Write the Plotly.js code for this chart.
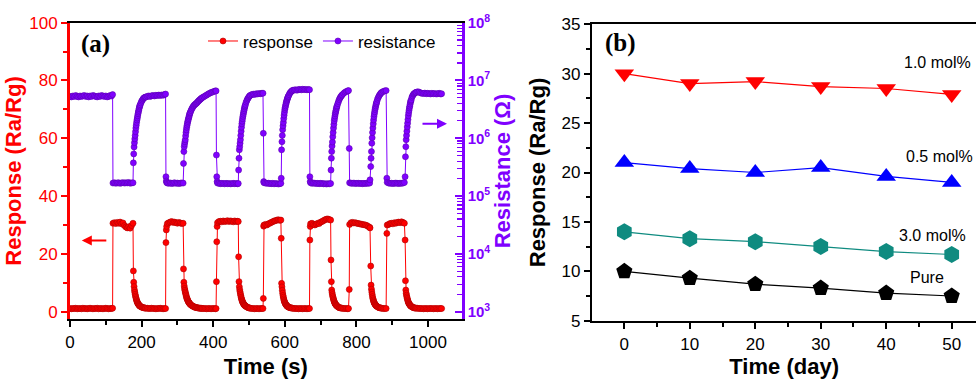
<!DOCTYPE html>
<html>
<head>
<meta charset="utf-8">
<script src="https://cdn.plot.ly/plotly-3.0.1.min.js"></script>
<style>html,body{margin:0;padding:0;background:#fff;}#chart{width:976px;height:379px;}</style>
</head>
<body>
<div id="chart"></div>
<script>
// ---------- Panel (a): dynamic response / resistance ----------
const timeS = [
  0,4,8,12,16,20,24,28,32,36, 40,44,48,52,56,60,64,68,72,76, 80,84,88,92,96,100,104,108,112,116, 119,
  120,124,128,132,136,140,144,148,152,156,160,164,168,172,176,
  177,178,179,180,181,182,183,184,185,186, 187,188,189,190,191,192,193,194,195,196, 198,200,202,204,206,208,210,212,
  216,220,224,228,232,236,240,244,248,252,256,260,264, 267,
  268,269,270,272,276,280,284,288,292,296,300,304,308,312,316,
  317,318,319,320,321,322,323,324,325,326, 327,328,329,330,331,332,333,334,335,336,
  338,340,342,344,346,348,350,352,354,356,358,360,362,364,366,368, 370,374,378,382,386,390,394,398,402,406, 408,
  409,410,411,412,416,420,424,428,432,436, 440,444,448,452,456,460,464,468,470,
  471,472,473,474,475,476,477,478,479,480, 481,482,483,484,485,486,487,488,489,490, 492,494,496,498,500,502,504,
  508,512,516,520,524,528,532,536, 539,
  540,541,542,546,550,554,558,562,566,570,574,578,582,586,589,
  590,591,592,593,594,595,596,597,598,599, 600,601,602,603,604,605,606,607,608,609, 610, 612,614,616,618,620,622,
  626,630,634,638,642,646,650,654,658,662,666, 669,
  670,671,672,676,680,684,688,692,696,700,704,708,712,716,720,724,728,
  729,730,731,732,733,734,735,736,737,738, 739,740,741,742,743,744,745,746, 748,750,752,754,756,758,760, 764,768,772,776, 778,
  780,781,785,789,793,797,801,805,809,813,817,821,825,829,833,837,838,
  840,841,842,843,844,845,846,847,848,849, 850,851,852,853,854,855,856,857, 859,861,863,865,867,869,871, 875,879,883,
  885,886,890,894,898,902,906,910,914,918,922,926,930,934,
  936,937,938,939,940,941,942,943,944,945, 946,947,948,949,950,951,952,953, 955,957,959,961,963,965,967, 971,
  975,979,983,987,991,995,999,1003,1007,1011,1015,1019,1023,1027,1031,1035, 1038
];
const responseRaRg = [
  1.1,1.0,1.1,1.1,1.2,1.0,1.1,1.1,1.0,1.2, 1.1,1.1,1.0,1.1,1.2,1.1,1.0,1.1,1.1,1.2, 1.0,1.1,1.1,1.0,1.1,1.2,1.1,1.0,1.1,1.1, 1.2,
  30.6,30.8,30.5,30.9,30.6,31.0,30.4,30.7,29.8,29.3,29.0,29.4,28.9,29.8,30.6,
  14.1,10.2,8.7,7.5,6.7,6.0,5.4,4.9,4.4,4.0, 3.6,3.3,3.0,2.8,2.6,2.4,2.3,2.1,2.0,1.9, 1.75,1.6,1.5,1.4,1.35,1.3,1.25,1.2,
  1.2,1.1,1.1,1.2,1.1,1.1,1.0,1.1,1.1,1.2,1.1,1.0,1.1, 1.1,
  23.9,28.3,29.5,30.5,30.8,31.0,31.2,30.9,31.0,30.8,30.6,30.9,30.7,30.5,30.6,
  14.8,10.2,8.9,8.0,7.4,6.8,6.3,5.8,5.3,4.8, 4.5,4.2,3.9,3.6,3.4,3.2,3.0,2.85,2.7,2.55,
  2.3,2.15,2.0,1.85,1.7,1.6,1.5,1.45,1.4,1.35,1.3,1.25,1.2,1.2,1.2,1.15, 1.1,1.1,1.1,1.0,1.1,1.1,1.0,1.1,1.1,1.0, 1.1,
  10.4,24.2,29.5,30.8,31.2,31.3,31.1,31.4,31.2,31.3, 31.5,31.2,31.4,31.3,31.1,31.4,31.2,31.3,31.2,
  19.0,10.4,8.6,7.6,6.9,6.2,5.6,5.0,4.5,4.1, 3.7,3.4,3.1,2.9,2.7,2.5,2.35,2.2,2.1,2.0, 1.8,1.65,1.5,1.4,1.3,1.25,1.2,
  1.1,1.1,1.0,1.1,1.1,1.0,1.1,1.1, 1.1,
  4.6,29.6,30.0,30.2,30.0,30.4,30.6,30.9,31.1,31.4,31.5,31.7,31.8,31.6,31.7,
  25.4,9.8,8.6,7.4,6.4,5.6,5.0,4.4,3.9,3.5, 3.2,2.9,2.7,2.5,2.3,2.15,2.0,1.9,1.8,1.7, 1.6, 1.5,1.4,1.35,1.3,1.25,1.2,
  1.1,1.1,1.1,1.0,1.1,1.1,1.0,1.1,1.1,1.0,1.1, 1.1,
  24.8,29.5,30.4,30.6,30.2,30.0,30.3,30.6,30.5,31.0,31.2,31.5,31.8,32.0,32.1,31.9,31.7,
  17.9,10.4,7.5,6.6,5.9,5.3,4.8,4.3,3.9,3.5, 3.2,2.9,2.7,2.5,2.35,2.2,2.05,1.95, 1.7,1.55,1.4,1.35,1.3,1.25,1.2, 1.1,1.1,1.1,1.0, 1.1,
  7.7,30.2,30.8,30.9,30.7,30.8,30.6,30.5,30.4,30.3,30.2,30.1,30.0,29.8,29.5,29.2,29.0,
  15.8,9.2,7.8,6.8,6.0,5.2,4.6,4.1,3.7,3.3, 3.0,2.8,2.6,2.4,2.25,2.1,1.95,1.85, 1.7,1.55,1.4,1.35,1.3,1.25,1.2, 1.1,1.1,1.1,
  27.1,30.0,30.2,30.5,30.6,30.4,30.8,30.6,30.9,31.0,30.8,31.1,30.9,30.6,
  24.8,10.7,7.5,6.4,5.7,5.1,4.6,4.1,3.7,3.3, 3.0,2.8,2.6,2.4,2.25,2.1,1.95,1.85, 1.7,1.55,1.4,1.35,1.3,1.25,1.2, 1.2,
  1.1,1.1,1.1,1.0,1.1,1.1,1.0,1.1,1.1,1.1,1.0,1.1,1.1,1.0,1.1,1.1, 1.1
];
const resistanceOhm = [
  5.3e6,5.2e6,5.4e6,5.3e6,5.5e6,5.3e6,5.2e6,5.4e6,5.3e6,5.4e6, 5.5e6,5.3e6,5.4e6,5.2e6,5.4e6,5.3e6,5.5e6,5.4e6,5.3e6,5.2e6, 5.4e6,5.3e6,5.5e6,5.4e6,5.3e6,5.4e6,5.2e6,5.3e6,5.5e6,5.4e6, 5.7e6,
  1.68e5,1.70e5,1.67e5,1.69e5,1.70e5,1.66e5,1.69e5,1.71e5,1.68e5,1.70e5,1.69e5,1.72e5,1.67e5,1.69e5,1.70e5,
  3.76e5,5.37e5,7.08e5,8.41e5,9.77e5,1.12e6,1.30e6,1.50e6,1.68e6,1.88e6, 2.07e6,2.24e6,2.45e6,2.66e6,2.85e6,3.05e6,3.27e6,3.47e6,3.63e6,3.80e6, 4.07e6,4.37e6,4.57e6,4.79e6,4.96e6,5.07e6,5.13e6,5.19e6,
  5.31e6,5.4e6,5.3e6,5.45e6,5.5e6,5.4e6,5.55e6,5.5e6,5.6e6,5.5e6,5.62e6,5.55e6,5.7e6, 5.82e6,
  2.16e5,1.82e5,1.72e5,1.68e5,1.66e5,1.69e5,1.65e5,1.67e5,1.70e5,1.66e5,1.68e5,1.65e5,1.67e5,1.69e5,1.68e5,
  3.67e5,5.89e5,7.16e5,7.94e5,8.71e5,9.44e5,1.10e6,1.26e6,1.40e6,1.55e6, 1.68e6,1.82e6,1.95e6,2.07e6,2.19e6,2.32e6,2.45e6,2.60e6,2.72e6,2.82e6,
  3.02e6,3.20e6,3.39e6,3.55e6,3.67e6,3.80e6,3.89e6,3.98e6,4.07e6,4.22e6,4.37e6,4.47e6,4.62e6,4.73e6,4.84e6,4.96e6, 5.07e6,5.25e6,5.43e6,5.62e6,5.82e6,6.03e6,6.17e6,6.31e6,6.46e6,6.61e6, 6.61e6,
  5.13e5,2.16e5,1.78e5,1.68e5,1.66e5,1.64e5,1.66e5,1.65e5,1.63e5,1.66e5, 1.64e5,1.65e5,1.63e5,1.64e5,1.66e5,1.64e5,1.65e5,1.63e5,1.65e5,
  2.82e5,4.52e5,6.31e5,7.16e5,8.22e5,9.44e5,1.12e6,1.33e6,1.55e6,1.78e6, 1.97e6,2.19e6,2.40e6,2.60e6,2.82e6,3.02e6,3.24e6,3.47e6,3.63e6,3.85e6, 4.22e6,4.52e6,4.79e6,5.01e6,5.25e6,5.43e6,5.56e6,
  5.7e6,5.8e6,5.75e6,5.9e6,5.85e6,5.95e6,5.9e6,6.0e6, 6.03e6,
  1.22e6,1.78e5,1.70e5,1.68e5,1.66e5,1.67e5,1.65e5,1.64e5,1.66e5,1.63e5,1.65e5,1.64e5,1.62e5,1.64e5,1.66e5,
  2.04e5,6.31e5,8.71e5,1.12e6,1.41e6,1.64e6,1.88e6,2.19e6,2.51e6,2.82e6, 3.16e6,3.39e6,3.63e6,3.89e6,4.12e6,4.37e6,4.57e6,4.79e6,5.01e6,5.19e6, 5.37e6, 5.69e6,6.03e6,6.24e6,6.46e6,6.61e6,6.76e6,
  6.85e6,6.9e6,6.8e6,6.95e6,7.0e6,6.9e6,7.05e6,6.95e6,7.0e6,6.9e6,7.0e6, 6.92e6,
  2.16e5,1.78e5,1.70e5,1.66e5,1.68e5,1.67e5,1.65e5,1.66e5,1.64e5,1.66e5,1.65e5,1.63e5,1.64e5,1.62e5,1.64e5,1.63e5,1.65e5,
  2.82e5,4.52e5,5.89e5,7.33e5,8.63e5,1.06e6,1.26e6,1.50e6,1.74e6,2.0e6, 2.21e6,2.43e6,2.66e6,2.85e6,3.05e6,3.27e6,3.47e6,3.63e6, 3.98e6,4.32e6,4.68e6,4.96e6,5.19e6,5.43e6,5.62e6, 5.96e6,6.24e6,6.46e6,6.61e6, 6.68e6,
  6.68e5,1.70e5,1.67e5,1.66e5,1.68e5,1.65e5,1.66e5,1.67e5,1.65e5,1.66e5,1.64e5,1.66e5,1.65e5,1.67e5,1.66e5,1.68e5,1.91e5,
  3.24e5,4.52e5,5.89e5,8.22e5,1.02e6,1.26e6,1.51e6,1.78e6,2.07e6,2.37e6, 2.63e6,2.88e6,3.16e6,3.39e6,3.63e6,3.89e6,4.07e6,4.32e6, 4.73e6,5.07e6,5.37e6,5.62e6,5.89e6,6.10e6,6.24e6, 6.46e6,6.61e6,6.68e6,
  2.04e5,1.73e5,1.68e5,1.66e5,1.67e5,1.65e5,1.66e5,1.68e5,1.66e5,1.65e5,1.67e5,1.66e5,1.68e5,1.72e5,
  2.16e5,4.79e5,7.16e5,9.44e5,1.12e6,1.33e6,1.57e6,1.82e6,2.11e6,2.45e6, 2.75e6,3.05e6,3.35e6,3.59e6,3.89e6,4.22e6,4.42e6,4.62e6, 5.13e6,5.43e6,5.75e6,5.89e6,6.03e6,6.17e6,6.24e6, 6.38e6,
  6.3e6,6.1e6,6.0e6,5.95e6,6.05e6,5.9e6,6.0e6,5.95e6,5.85e6,6.0e6,5.9e6,5.95e6,5.85e6,5.9e6,6.0e6,5.85e6, 5.9e6
];
const resTickVals = [1e3, 1e4, 1e5, 1e6, 1e7, 1e8];
const resTickText = ['<b>10<sup>3</sup></b>','<b>10<sup>4</sup></b>','<b>10<sup>5</sup></b>','<b>10<sup>6</sup></b>','<b>10<sup>7</sup></b>','<b>10<sup>8</sup></b>'];
const resMinorTickVals = [
  2e3,3e3,4e3,5e3,6e3,7e3,8e3,9e3, 2e4,3e4,4e4,5e4,6e4,7e4,8e4,9e4,
  2e5,3e5,4e5,5e5,6e5,7e5,8e5,9e5, 2e6,3e6,4e6,5e6,6e6,7e6,8e6,9e6,
  2e7,3e7,4e7,5e7,6e7,7e7,8e7,9e7
];

// ---------- Panel (b): stability over days ----------
const days = [0, 10, 20, 30, 40, 50];
const resp10mol = [30.0, 29.0, 29.2, 28.7, 28.5, 27.9];
const resp05mol = [21.0, 20.4, 20.0, 20.5, 19.6, 19.0];
const resp30mol = [14.0, 13.3, 13.0, 12.5, 12.0, 11.7];
const respPure  = [10.0, 9.3, 8.7, 8.3, 7.8, 7.5];
const seriesLabels = ['1.0 mol%', '0.5 mol%', '3.0 mol%', 'Pure'];

const RED = '#ff0000', PURPLE = '#8000ff', BLUE = '#0000ff', TEAL = '#0f8b80';
const SANS = '"Liberation Sans", Arial, sans-serif';
const SERIF = '"Liberation Serif", "Times New Roman", serif';

const traces = [
  {x: timeS, y: responseRaRg, name: 'response', type: 'scatter', mode: 'lines+markers',
   xaxis: 'x', yaxis: 'y', line: {color: RED, width: 1},
   marker: {symbol: 'circle', size: 6, color: RED, line: {color: '#b00000', width: 0.6}}},
  {x: timeS, y: resistanceOhm, name: 'resistance', type: 'scatter', mode: 'lines+markers',
   xaxis: 'x', yaxis: 'y2', line: {color: PURPLE, width: 1},
   marker: {symbol: 'circle', size: 6, color: PURPLE, line: {color: '#5a00b0', width: 0.6}}},
  {x: days, y: resp10mol, name: seriesLabels[0], xaxis: 'x2', yaxis: 'y3', type: 'scatter', mode: 'lines+markers', showlegend: false,
   line: {color: RED, width: 1.2}, marker: {symbol: 'triangle-down', size: 17, color: RED}},
  {x: days, y: resp05mol, name: seriesLabels[1], xaxis: 'x2', yaxis: 'y3', type: 'scatter', mode: 'lines+markers', showlegend: false,
   line: {color: BLUE, width: 1.2}, marker: {symbol: 'triangle-up', size: 17, color: BLUE}},
  {x: days, y: resp30mol, name: seriesLabels[2], xaxis: 'x2', yaxis: 'y3', type: 'scatter', mode: 'lines+markers', showlegend: false,
   line: {color: TEAL, width: 1.2}, marker: {symbol: 'hexagon', size: 17, color: TEAL}},
  {x: days, y: respPure, name: seriesLabels[3], xaxis: 'x2', yaxis: 'y3', type: 'scatter', mode: 'lines+markers', showlegend: false,
   line: {color: 'black', width: 1.2}, marker: {symbol: 'pentagon', size: 17, color: 'black'}}
];

const layout = {
  width: 976, height: 379,
  margin: {l: 70, r: 0, t: 22, b: 58, pad: 0},
  paper_bgcolor: 'white', plot_bgcolor: 'white',
  font: {family: SANS, size: 17, color: 'black'},
  showlegend: true,
  legend: {orientation: 'h', x: 0.4095, xanchor: 'right', y: 0.935, yanchor: 'middle',
           font: {size: 17, color: 'black'}, bgcolor: 'rgba(0,0,0,0)', itemwidth: 30, traceorder: 'normal'},
  xaxis: {domain: [0, 0.4323], anchor: 'y', range: [0, 1094],
          showline: true, linecolor: 'black', linewidth: 2, mirror: true,
          ticks: 'outside', ticklen: 6, tickwidth: 2, tickcolor: 'black', tick0: 0, dtick: 200,
          minor: {ticks: 'outside', ticklen: 4, tickwidth: 2, tickcolor: 'black', dtick: 100},
          showgrid: false, zeroline: false, tickfont: {size: 17, color: 'black'},
          title: {text: '<b>Time (s)</b>', font: {size: 22, color: 'black'}, standoff: 8}},
  yaxis: {domain: [0.0057, 0.9977], anchor: 'x', range: [-2.63, 100],
          showline: true, linecolor: RED, linewidth: 3,
          ticks: 'outside', ticklen: 6, tickwidth: 2, tickcolor: RED, tick0: 0, dtick: 20,
          minor: {ticks: 'outside', ticklen: 4, tickwidth: 2, tickcolor: RED, dtick: 10},
          showgrid: false, zeroline: false, tickfont: {size: 17, color: RED},
          title: {text: '<b>Response (Ra/Rg)</b>', font: {size: 22, color: RED}, standoff: 2}},
  yaxis2: {overlaying: 'y', side: 'right', anchor: 'x', type: 'log', range: [2.8685, 8],
           showline: true, linecolor: PURPLE, linewidth: 3,
           ticks: 'inside', ticklen: 7, tickwidth: 2, tickcolor: PURPLE,
           tickmode: 'array', tickvals: resTickVals, ticktext: resTickText,
           minor: {ticks: 'inside', ticklen: 4.5, tickwidth: 1.2, tickcolor: PURPLE, tickmode: 'array', tickvals: resMinorTickVals},
           showgrid: false, zeroline: false, tickfont: {size: 15, color: PURPLE},
           title: {text: '<b>Resistance (Ω)</b>', font: {size: 22, color: PURPLE}, standoff: 6}},
  xaxis2: {domain: [0.5765, 1], anchor: 'y3', range: [-4.89, 53.71],
           showline: true, linecolor: 'black', linewidth: 2.5, mirror: true,
           ticks: 'outside', ticklen: 6, tickwidth: 2, tickcolor: 'black', tick0: 0, dtick: 10,
           minor: {ticks: 'outside', ticklen: 4, tickwidth: 2, tickcolor: 'black', dtick: 5},
           showgrid: false, zeroline: false, tickfont: {size: 17, color: 'black'},
           title: {text: '<b>Time (day)</b>', font: {size: 22, color: 'black'}, standoff: 8}},
  yaxis3: {domain: [0.001, 0.9923], anchor: 'x2', range: [5, 35],
           showline: true, linecolor: 'black', linewidth: 2.5,
           ticks: 'outside', ticklen: 6, tickwidth: 2, tickcolor: 'black', tick0: 5, dtick: 5,
           minor: {ticks: 'outside', ticklen: 4, tickwidth: 2, tickcolor: 'black', dtick: 2.5},
           showgrid: false, zeroline: false, tickfont: {size: 17, color: 'black'},
           title: {text: '<b>Response (Ra/Rg)</b>', font: {size: 22, color: 'black'}, standoff: 10}},
  annotations: [
    {text: '<b>(a)</b>', xref: 'paper', yref: 'paper', x: 0.0099, y: 0.926, xanchor: 'left', yanchor: 'middle',
     showarrow: false, font: {family: SERIF, size: 25, color: 'black'}},
    {text: '<b>(b)</b>', xref: 'paper', yref: 'paper', x: 0.5883, y: 0.93, xanchor: 'left', yanchor: 'middle',
     showarrow: false, font: {family: SERIF, size: 25, color: 'black'}},
    {text: '', xref: 'x', yref: 'y', x: 33, y: 24.6, ax: 26, ay: 0, showarrow: true,
     arrowhead: 2, arrowsize: 1, arrowwidth: 2, arrowcolor: RED},
    {text: '', xref: 'x', yref: 'y', x: 1053, y: 65, ax: -26, ay: 0, showarrow: true,
     arrowhead: 2, arrowsize: 1, arrowwidth: 2, arrowcolor: PURPLE},
    {text: seriesLabels[0], xref: 'x2', yref: 'y3', x: 47.9, y: 31.1, showarrow: false, font: {size: 16, color: 'black'}},
    {text: seriesLabels[1], xref: 'x2', yref: 'y3', x: 48.1, y: 21.6, showarrow: false, font: {size: 16, color: 'black'}},
    {text: seriesLabels[2], xref: 'x2', yref: 'y3', x: 47.0, y: 13.6, showarrow: false, font: {size: 16, color: 'black'}},
    {text: seriesLabels[3], xref: 'x2', yref: 'y3', x: 46.2, y: 9.4, showarrow: false, font: {size: 16, color: 'black'}}
  ]
};

Plotly.newPlot('chart', traces, layout, {displayModeBar: false, staticPlot: true});
</script>
</body>
</html>
